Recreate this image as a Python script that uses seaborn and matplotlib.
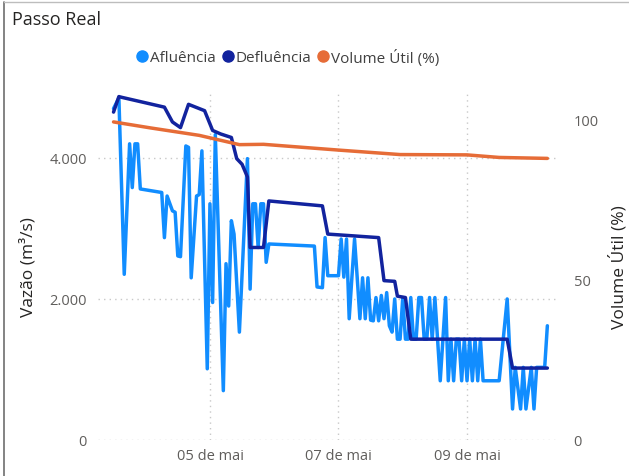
import numpy as np
import pandas as pd
import seaborn as sns
import matplotlib
matplotlib.use("Agg")
import matplotlib.pyplot as plt
from matplotlib.lines import Line2D

# --- data (hours counted from 05 de mai 00:00) ---
aflu_hours = [-36, -34, -32, -30, -29, -28, -27, -26, -18, -17, -16, -14, -13, -12, -11,
              -9, -8, -7, -5, -4, -3, -1, 0, 1, 2, 5, 6, 7, 8, 9, 11, 14, 15, 16, 17,
              18, 19, 20, 21, 22, 39, 40, 42, 43, 44, 48, 49, 50, 51, 52, 53, 54, 55,
              56, 57, 58, 59, 60, 61, 62, 63, 64, 65, 66, 67, 68, 69, 70, 71, 72, 73,
              74, 75, 76, 77, 78, 79, 80, 81, 82, 83, 84, 85, 86, 87, 88, 89, 90, 91,
              92, 93, 94, 95, 96, 97, 98, 99, 100, 101, 102, 108, 111, 113, 114, 116,
              117, 118, 120, 121, 122, 125, 126]
aflu_vals = [4700, 4850, 2350, 4200, 3580, 4200, 4200, 3560, 3510, 2870, 3460, 3250, 3230,
             2610, 2600, 4170, 4150, 2300, 3460, 3480, 4100, 1010, 3350, 1950, 4330, 700,
             2500, 1900, 3110, 2920, 1530, 3990, 2140, 3350, 3350, 2730, 3350, 3350, 2520,
             2780, 2750, 2170, 2160, 2870, 2330, 2330, 2850, 2310, 2850, 1720, 2300, 2850,
             2300, 1720, 2300, 1720, 2300, 1700, 1690, 2020, 1690, 2050, 1720, 2090, 1620,
             1530, 2000, 1430, 1430, 2020, 1430, 1430, 2020, 1430, 1430, 2020, 2020, 1430,
             1430, 2020, 1430, 2020, 1430, 840, 1430, 2020, 840, 1430, 840, 1430, 1430,
             840, 1430, 840, 1430, 840, 1430, 840, 1430, 840, 840, 2000, 440, 1030, 440,
             1030, 440, 1030, 440, 1030, 1030, 1620]

deflu_hours = [-36, -34, -33, -17, -14, -11, -8, -2, 1, 4, 8, 10, 12, 14, 15, 20, 22, 42,
               44, 63, 65, 69, 70, 73, 75, 111, 113, 126]
deflu_vals = [4650, 4870, 4860, 4720, 4510, 4430, 4760, 4670, 4390, 4340, 4290, 3990, 3910,
              3730, 2730, 2730, 3390, 3320, 2920, 2870, 2260, 2250, 2040, 2020, 1430, 1430,
              1020, 1020]

vol_hours = [-36, -22, -4, 11, 20, 48, 71, 96, 108, 126]
vol_vals = [99.4, 97.5, 95.2, 92.3, 92.4, 90.6, 89.2, 89.1, 88.3, 88.0]

series_names = ["Afluência", "Defluência", "Volume Útil (%)"]
series_colors = ["#118DFF", "#12239E", "#E66C37"]
tick_days = [0, 2, 4]
tick_labels = ["05 de mai", "07 de mai", "09 de mai"]
left_ticks = [0, 2000, 4000]
left_tick_labels = ["0", "2.000", "4.000"]
right_ticks = [0, 50, 100]

base = pd.Timestamp("2024-05-05")


def to_df(hours, vals):
    return pd.DataFrame({"t": base + pd.to_timedelta(hours, unit="h"), "v": vals})


sns.set_theme(style="white")
plt.rcParams["font.family"] = ["Open Sans", "DejaVu Sans"]

fig = plt.figure(figsize=(6.29, 4.77), dpi=100)
ax = fig.add_axes([98 / 629, 36 / 477, 459 / 629, 348 / 477])
ax2 = ax.twinx()

lw = 2.5
sns.lineplot(data=to_df(aflu_hours, aflu_vals), x="t", y="v", ax=ax,
             color=series_colors[0], linewidth=lw)
sns.lineplot(data=to_df(deflu_hours, deflu_vals), x="t", y="v", ax=ax,
             color=series_colors[1], linewidth=lw)
sns.lineplot(data=to_df(vol_hours, vol_vals), x="t", y="v", ax=ax2,
             color=series_colors[2], linewidth=lw)

ax.set_xlim(base + pd.Timedelta(hours=-41.8), base + pd.Timedelta(hours=129.6))
ax.set_ylim(0, 4935)
ax2.set_ylim(0, 108.75)

grid_kw = dict(color="#C8C8C8", linewidth=1.0, linestyle=(0, (1, 3)))
ax.grid(False)
ax2.grid(False)
for v in left_ticks:
    ax.axhline(v, zorder=0, **grid_kw)
for d in tick_days:
    ax.axvline(base + pd.Timedelta(days=d), zorder=0, **grid_kw)

ax.set_xticks([base + pd.Timedelta(days=d) for d in tick_days])
ax.set_xticklabels(tick_labels)
ax.set_yticks(left_ticks)
ax.set_yticklabels(left_tick_labels)
ax2.set_yticks(right_ticks)
ax2.set_yticklabels([str(v) for v in right_ticks])

ax.tick_params(axis="x", length=0, pad=6, labelsize=10.5, labelcolor="#605E5C")
ax.tick_params(axis="y", length=0, pad=8, labelsize=10.5, labelcolor="#605E5C")
ax2.tick_params(axis="y", length=0, pad=12, labelsize=10.5, labelcolor="#605E5C")

for a in (ax, ax2):
    for s in a.spines.values():
        s.set_visible(False)

ax.set_xlabel("")
ax.set_ylabel("Vazão (m³/s)", fontsize=12.5, color="#252423")
ax.yaxis.set_label_coords(-0.135, 0.5)
ax2.set_ylabel("Volume Útil (%)", fontsize=12.5, color="#252423", rotation=90)
ax2.yaxis.set_label_coords(1.114, 0.5)

fig.text(12 / 629, 1 - 20 / 477, "Passo Real", fontsize=13, color="#252423",
         ha="left", va="center")

handles = [Line2D([], [], marker="o", linestyle="none", markersize=8,
                  markerfacecolor=c, markeredgecolor=c) for c in series_colors]
fig.legend(handles, series_names, loc="center", ncol=3, frameon=False,
           bbox_to_anchor=(288 / 629, 1 - 58 / 477), fontsize=11,
           handlelength=0.7, handletextpad=0.15, columnspacing=0.45,
           labelcolor="#404040")

# visual border of the card
fig.add_artist(Line2D([4 / 629, 4 / 629], [0, 1 - 3 / 477], color="#6E6E6E",
                      linewidth=1.2, transform=fig.transFigure))
fig.add_artist(Line2D([4 / 629, 1], [1 - 3 / 477, 1 - 3 / 477], color="#BDBDBD",
                      linewidth=1.0, transform=fig.transFigure))

fig.savefig("out.png", dpi=100)
